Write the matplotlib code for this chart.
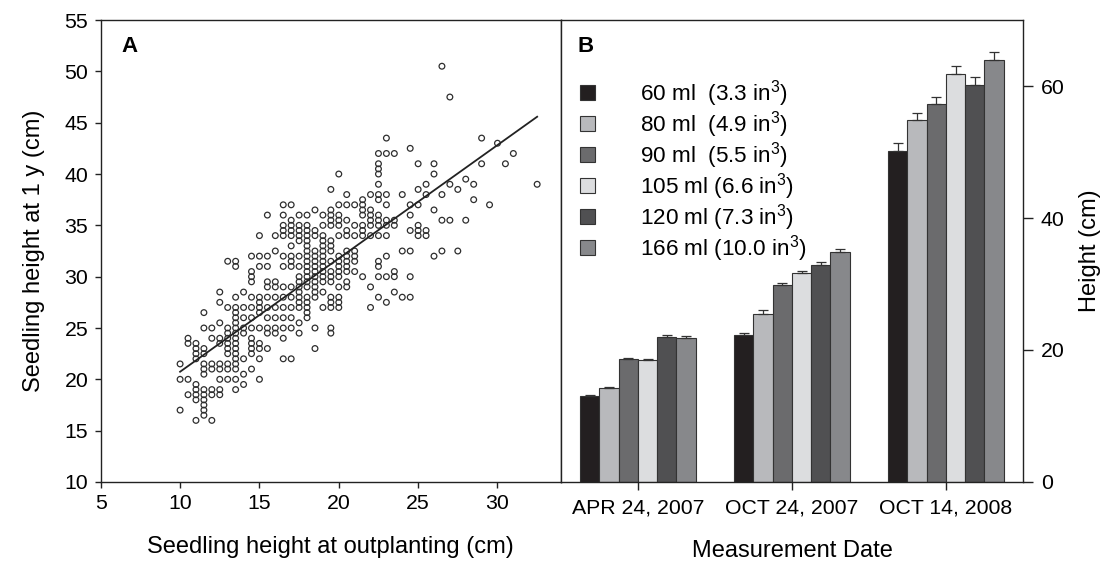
import numpy as np
import matplotlib
matplotlib.use("Agg")
import matplotlib.pyplot as plt

plt.rcParams["font.family"] = ["Liberation Sans", "DejaVu Sans"]
plt.rcParams["mathtext.fontset"] = "custom"
plt.rcParams["mathtext.rm"] = "Liberation Sans"
plt.rcParams["mathtext.it"] = "Liberation Sans"

# ---------------------------
# Panel A data: 1-yr height by outplanting height (cm)
# ---------------------------
yr1_by_outplant = {
    10.0: [21.5, 20, 17],
    10.5: [24, 23.5, 20, 18.5],
    11.0: [23.5, 23, 22.5, 22, 19.5, 19, 18.5, 18, 16],
    11.5: [26.5, 25, 23, 22.5, 21.5, 21, 20.5, 19, 18.5, 18, 17.5, 17, 16.5],
    12.0: [25, 24, 21.5, 21, 19, 18.5, 16],
    12.5: [28.5, 27.5, 25.5, 24, 23.5, 21.5, 21, 20, 19, 18.5],
    13.0: [31.5, 27, 25, 24.5, 24, 23.5, 23, 22.5, 21.5, 21, 20],
    13.5: [31.5, 31, 28, 27, 26.5, 26, 25.5, 25, 24.5, 24, 23.5, 23, 22.5, 22, 21.5, 21, 20, 19],
    14.0: [28.5, 27, 26, 25, 24.5, 22, 20.5, 19.5],
    14.5: [32, 30.5, 30, 29.5, 28, 27, 26, 25, 24, 23.5, 23, 22.5, 21],
    15.0: [34, 32, 31, 28, 27.5, 27, 26.5, 25, 23.5, 23, 22, 20],
    15.5: [36, 32, 31, 29.5, 29, 28, 27, 26, 25, 24.5, 23],
    16.0: [34, 32.5, 29.5, 29, 28, 27, 26, 25, 24.5],
    16.5: [37, 36, 35, 34.5, 34, 32, 31, 29, 28, 27, 26, 25, 24, 22],
    17.0: [37, 35.5, 35, 34.5, 34, 33, 32, 31.5, 31, 29, 28, 27, 26, 25, 22],
    17.5: [36, 35, 34.5, 34, 33.5, 32, 31, 30, 29.5, 29, 28.5, 28, 27.5, 27, 25.5, 24.5],
    18.0: [36, 35, 34.5, 34, 33.5, 33, 32.5, 32, 31.5, 31, 30.5, 30, 29.5, 29, 28, 27.5, 27, 26.5, 26],
    18.5: [36.5, 34.5, 34, 32.5, 32, 31.5, 31, 30.5, 30, 29.5, 29, 28.5, 28, 25, 23],
    19.0: [36, 35, 34, 33.5, 33, 32.5, 32, 31.5, 31, 30.5, 30, 29.5, 28.5, 27],
    19.5: [38.5, 36.5, 36, 35.5, 35, 33.5, 33, 32.5, 31.5, 30.5, 30, 29.5, 28, 27.5, 27, 25, 24.5],
    20.0: [40, 37, 36, 35.5, 35, 34, 32, 31.5, 31, 30.5, 30, 29, 28, 27.5, 27],
    20.5: [38, 37, 35.5, 34.5, 34, 32.5, 32, 31.5, 31, 30.5, 29.5, 29],
    21.0: [37, 35, 34, 32.5, 32, 31.5, 30.5],
    21.5: [37.5, 37, 36.5, 36, 35, 34.5, 34, 30],
    22.0: [38, 36.5, 36, 35.5, 35, 34, 29, 27],
    22.5: [42, 41, 40.5, 40, 39, 38, 37.5, 36, 35.5, 35, 34, 31.5, 31, 30, 28],
    23.0: [43.5, 42, 38, 37, 35.5, 35, 34, 32, 30, 27.5],
    23.5: [42, 35.5, 35, 30.5, 30, 28.5],
    24.0: [38, 32.5, 28],
    24.5: [42.5, 37, 36, 34.5, 32.5, 30, 28],
    25.0: [41, 38.5, 37, 35, 34.5, 34],
    25.5: [39, 38, 34.5, 34],
    26.0: [41, 40, 36.5, 32],
    26.5: [50.5, 38, 35.5, 32.5],
    27.0: [47.5, 39, 35.5],
    27.5: [38.5, 32.5],
    28.0: [39.5, 35.5],
    28.5: [39, 37.5],
    29.0: [43.5, 41],
    29.5: [37],
    30.0: [43],
    30.5: [41],
    31.0: [42],
    32.5: [39],
}
# regression line as drawn
fit_slope = 1.104
fit_intercept = 9.70
fit_range = (10.0, 32.5)

# ---------------------------
# Panel B data: mean height (cm) by container size and date
# ---------------------------
dates = ["APR 24, 2007", "OCT 24, 2007", "OCT 14, 2008"]
containers = ["60 ml  (3.3 in$^3$)", "80 ml  (4.9 in$^3$)", "90 ml  (5.5 in$^3$)",
              "105 ml (6.6 in$^3$)", "120 ml (7.3 in$^3$)", "166 ml (10.0 in$^3$)"]
bar_colors = ["#231f20", "#b8b9bc", "#6b6b6d", "#dcdddf", "#505052", "#87888b"]
heights = [
    [13.0, 22.3, 50.2],   # 60 ml
    [14.2, 25.5, 54.8],   # 80 ml
    [18.6, 29.8, 57.3],   # 90 ml
    [18.5, 31.6, 61.8],   # 105 ml
    [21.9, 32.9, 60.2],   # 120 ml
    [21.8, 34.9, 64.0],   # 166 ml
]
errors = [
    [0.2, 0.3, 1.1],
    [0.2, 0.5, 1.1],
    [0.2, 0.4, 1.0],
    [0.2, 0.4, 1.2],
    [0.3, 0.4, 1.1],
    [0.3, 0.4, 1.2],
]

# flatten scatter data
xs = np.concatenate([[k] * len(v) for k, v in yr1_by_outplant.items()])
ys = np.concatenate([v for v in yr1_by_outplant.values()])

fig = plt.figure(figsize=(11.01, 5.71), dpi=100)
axA = fig.add_axes([0.0915, 0.1559, 0.418, 0.809])
axB = fig.add_axes([0.5095, 0.1559, 0.4196, 0.809])

edge = "#222222"
for ax in (axA, axB):
    for s in ax.spines.values():
        s.set_color(edge)
        s.set_linewidth(1.0)

tick_fs = 15.3
label_fs = 17

# ---------------------------
# Panel A
# ---------------------------
axA.scatter(xs, ys, s=17, facecolors="none", edgecolors="#2e2e2e", linewidths=0.9)
lx = np.array(fit_range)
axA.plot(lx, fit_intercept + fit_slope * lx, color="#222222", lw=1.3)

axA.set_xlim(5, 34)
axA.set_ylim(10, 55)
axA.set_xticks(range(5, 31, 5))
axA.set_yticks(range(10, 56, 5))
axA.tick_params(direction="out", length=4, width=1, color=edge, labelsize=tick_fs, pad=5)
axA.set_xlabel("Seedling height at outplanting (cm)", fontsize=label_fs, labelpad=16)
axA.set_ylabel("Seedling height at 1 y (cm)", fontsize=label_fs, labelpad=14)
axA.text(0.044, 0.965, "A", transform=axA.transAxes, fontsize=16, fontweight="bold",
         ha="left", va="top")

# ---------------------------
# Panel B
# ---------------------------
pos = np.arange(len(dates))
w = 0.125
for i, (lab, col) in enumerate(zip(containers, bar_colors)):
    axB.bar(pos + (i - 2.5) * w, heights[i], width=w, color=col, edgecolor="#333333",
            linewidth=0.8, label=lab,
            yerr=[np.zeros(len(dates)), errors[i]], capsize=3.5,
            error_kw=dict(ecolor="#333333", elinewidth=0.9, capthick=0.9))

axB.set_xlim(-0.5, 2.5)
axB.set_ylim(0, 70)
axB.set_xticks(pos)
axB.set_xticklabels(dates)
axB.set_yticks([0, 20, 40, 60])
axB.yaxis.tick_right()
axB.yaxis.set_label_position("right")
axB.tick_params(axis="x", direction="out", length=6, width=1, color=edge, labelsize=tick_fs, pad=6)
axB.tick_params(axis="y", direction="out", length=7, width=1, color=edge, labelsize=tick_fs, pad=6)
axB.set_xlabel("Measurement Date", fontsize=label_fs, labelpad=16)
axB.set_ylabel("Height (cm)", fontsize=label_fs, labelpad=10)
axB.text(0.036, 0.965, "B", transform=axB.transAxes, fontsize=16, fontweight="bold",
         ha="left", va="top")

axB.legend(loc="upper left", bbox_to_anchor=(0.041, 0.874), frameon=False, fontsize=16.2,
           handlelength=0.67, handleheight=0.67, handletextpad=2.0, labelspacing=0.0,
           borderaxespad=0.0, borderpad=0.0)

fig.savefig("out.png", dpi=100)
